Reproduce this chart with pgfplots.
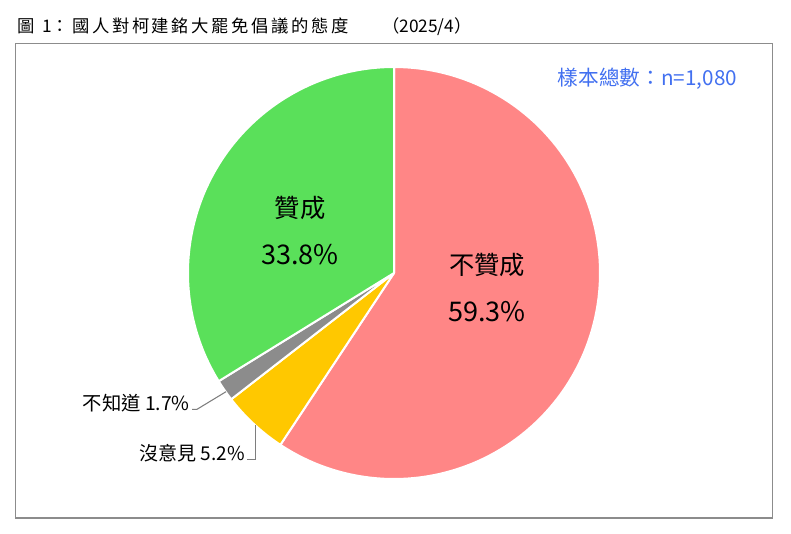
\documentclass[border=0pt]{standalone}
\usepackage{pgfplots}
\pgfplotsset{compat=1.18}
\usepackage{fontspec}
\setmainfont{Noto Sans CJK TC}
\newfontfamily\spacedfont[LetterSpace=15]{Noto Sans CJK TC}

\definecolor{pieRed}{RGB}{255,134,134}
\definecolor{pieYellow}{RGB}{255,200,0}
\definecolor{pieGray}{RGB}{140,140,140}
\definecolor{pieGreen}{RGB}{90,224,90}
\definecolor{noteBlue}{RGB}{66,112,240}
\definecolor{frameGray}{RGB}{140,140,140}

% shares in percent, clockwise from 12 o'clock
% 不贊成 59.3, 沒意見 5.2, 不知道 1.7, 贊成 33.8
\def\cx{394}
\def\cy{260}
\def\rr{206}

\begin{document}
\begin{tikzpicture}
\begin{axis}[
  scale only axis,
  width=593.25pt, height=399.75pt,
  xmin=0, xmax=791, ymin=0, ymax=533,
  hide axis,
  clip=false,
  samples=120,
  pie/.style={draw=white, line width=1.5pt, line join=round},
]
\path (axis cs:0,0) (axis cs:791,533);

% frame
\draw[frameGray, line width=1pt] (axis cs:15.5,489.5) rectangle (axis cs:772.5,15);

% wedges
\addplot[pie, fill=pieRed, domain={90-3.6*59.3}:90]
  ({\cx+\rr*cos(x)}, {\cy+\rr*sin(x)}) -- (axis cs:\cx,\cy) -- cycle;
\addplot[pie, fill=pieYellow, domain={90-3.6*(59.3+5.2)}:{90-3.6*59.3}]
  ({\cx+\rr*cos(x)}, {\cy+\rr*sin(x)}) -- (axis cs:\cx,\cy) -- cycle;
\addplot[pie, fill=pieGray, domain={90-3.6*(59.3+5.2+1.7)}:{90-3.6*(59.3+5.2)}]
  ({\cx+\rr*cos(x)}, {\cy+\rr*sin(x)}) -- (axis cs:\cx,\cy) -- cycle;
\addplot[pie, fill=pieGreen, domain={-270}:{90-3.6*(59.3+5.2+1.7)}]
  ({\cx+\rr*cos(x)}, {\cy+\rr*sin(x)}) -- (axis cs:\cx,\cy) -- cycle;

% leader lines
\addplot[pieGray!90!black, line width=0.8pt] coordinates {(192,123.7) (197,123.7) (226,141.3)};
\addplot[pieGray!90!black, line width=0.8pt] coordinates {(247,73.3) (255.3,73.3) (255.3,108)};

% labels
\node[font=\fontsize{19}{21}\selectfont] at (axis cs:300,325) {贊成};
\node[font=\fontsize{20.3}{22}\selectfont] at (axis cs:300,278) {33.8\%};
\node[font=\fontsize{19}{21}\selectfont] at (axis cs:487,268) {不贊成};
\node[font=\fontsize{20.3}{22}\selectfont] at (axis cs:487,221) {59.3\%};
\node[font=\fontsize{14.5}{16}\selectfont, anchor=base east, inner sep=0pt] at (axis cs:190,123) {不知道 1.7\%};
\node[font=\fontsize{14.3}{16}\selectfont, anchor=base east, inner sep=0pt] at (axis cs:245,73) {沒意見 5.2\%};

% sample size
\node[font=\fontsize{15.5}{17}\selectfont, text=noteBlue] at (axis cs:647.5,454) {樣本總數：n=1,080};

% title
\node[font=\fontsize{13}{15}\selectfont, anchor=base west, inner sep=0pt] at (axis cs:17,500) {圖};
\node[font=\fontsize{13}{15}\selectfont, anchor=base west, inner sep=0pt] at (axis cs:42,500) {1：};
\node[font=\spacedfont\fontsize{13}{15}\selectfont, anchor=base west, inner sep=0pt] at (axis cs:72,500) {國人對柯建銘大罷免倡議的態度};
\node[font=\fontsize{13}{15}\selectfont, anchor=base east, inner sep=0pt] at (axis cs:472,500) {（2025/4）};
\end{axis}
\end{tikzpicture}
\end{document}
